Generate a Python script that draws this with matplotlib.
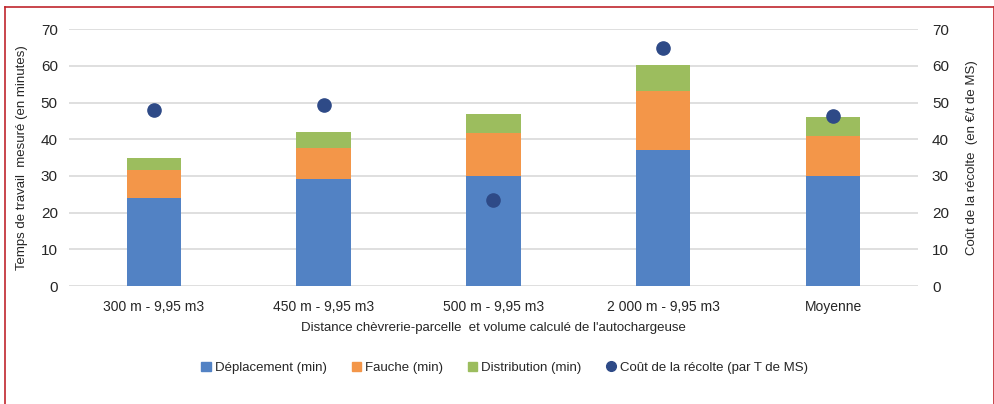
import numpy as np
import matplotlib.pyplot as plt
from matplotlib.lines import Line2D
from matplotlib.patches import Patch

plt.rcParams['font.family'] = ['Liberation Sans', 'DejaVu Sans']

# data
categories = ['300 m - 9,95 m3', '450 m - 9,95 m3', '500 m - 9,95 m3',
              '2 000 m - 9,95 m3', 'Moyenne']
deplacement = [24.0, 29.2, 30.0, 37.0, 30.0]
fauche = [7.5, 8.3, 11.8, 16.2, 11.0]
distribution = [3.3, 4.5, 5.2, 7.1, 5.0]
cout = [48.0, 49.2, 23.4, 64.8, 46.3]

c_blue = '#5282C4'
c_orange = '#F39649'
c_green = '#9CBD5E'
c_dot = '#2E4A87'
c_text = '#262626'

fig = plt.figure(figsize=(9.95, 4.04), dpi=100)
ax = fig.add_axes([0.0693, 0.292, 0.8533, 0.636])

x = np.arange(len(categories))
w = 0.32
b1 = np.array(deplacement)
b2 = b1 + np.array(fauche)
ax.bar(x, deplacement, w, color=c_blue, zorder=2)
ax.bar(x, fauche, w, bottom=b1, color=c_orange, zorder=2)
ax.bar(x, distribution, w, bottom=b2, color=c_green, zorder=2)

ax.set_xlim(-0.5, len(categories) - 0.5)
ax.set_ylim(0, 70)
ax.set_yticks(range(0, 71, 10))
ax.yaxis.grid(True, color='#d9d9d9', linewidth=1.2, zorder=0)
ax.set_axisbelow(True)
for s in ax.spines.values():
    s.set_visible(False)
ax.tick_params(length=0, labelsize=11, colors=c_text, pad=8)
ax.set_xticks(x)
ax.set_xticklabels(categories, fontsize=10)
ax.tick_params(axis='x', pad=10)
ax.set_ylabel('Temps de travail  mesuré (en minutes)', fontsize=9.5,
              color=c_text, labelpad=9)
ax.set_xlabel('Distance chèvrerie-parcelle  et volume calculé de l\'autochargeuse',
              fontsize=9.5, color=c_text, labelpad=6)

ax2 = ax.twinx()
ax2.set_ylim(0, 70)
ax2.set_yticks(range(0, 71, 10))
for s in ax2.spines.values():
    s.set_visible(False)
ax2.tick_params(length=0, labelsize=11, colors=c_text, pad=10)
ax2.plot(x, cout, 'o', color=c_dot, markersize=9.5, zorder=3)
ax2.set_ylabel('Coût de la récolte  (en €/t de MS)', fontsize=9.5,
               color=c_text, labelpad=12)

handles = [Patch(color=c_blue), Patch(color=c_orange), Patch(color=c_green),
           Line2D([], [], marker='o', color=c_dot, linestyle='none', markersize=7)]
labels = ['Déplacement (min)', 'Fauche (min)', 'Distribution (min)',
          'Coût de la récolte (par T de MS)']
fig.legend(handles, labels, loc='center', bbox_to_anchor=(0.507, 0.09), ncol=4,
           frameon=False, fontsize=9.5, handlelength=0.7, handleheight=0.7,
           handletextpad=0.3, columnspacing=1.9, labelcolor=c_text)

# red frame (no bottom edge)
red = '#C0262D'
fig.add_artist(Line2D([0.005, 0.005], [0, 0.983], color=red, linewidth=1.2,
                      transform=fig.transFigure))
fig.add_artist(Line2D([0.999, 0.999], [0, 0.983], color=red, linewidth=1.2,
                      transform=fig.transFigure))
fig.add_artist(Line2D([0.005, 0.999], [0.983, 0.983], color=red, linewidth=1.2,
                      transform=fig.transFigure))

fig.savefig('out.png', dpi=100)
